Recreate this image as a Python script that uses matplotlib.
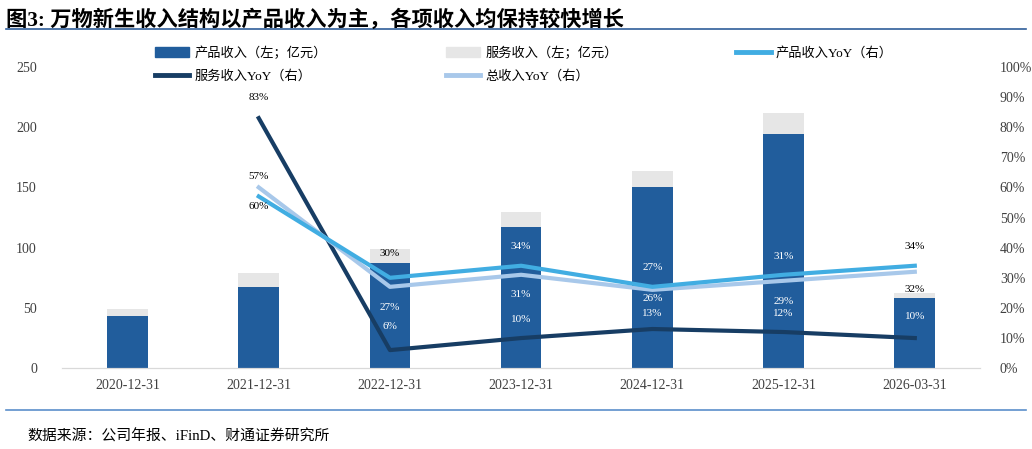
import matplotlib.pyplot as plt
import matplotlib.lines as mlines
import matplotlib.patches as mpatches
import numpy as np

plt.rcParams['font.family'] = ['Liberation Serif', 'Noto Sans CJK SC', 'DejaVu Sans']

# data
dates = ['2020-12-31', '2021-12-31', '2022-12-31', '2023-12-31',
         '2024-12-31', '2025-12-31', '2026-03-31']
product_rev = [43, 67, 87, 117, 150, 194, 58]
service_rev = [6, 12, 12, 13, 14, 18, 4]
product_yoy = [None, 57, 30, 34, 27, 31, 34]
service_yoy = [None, 83, 6, 10, 13, 12, 10]
total_yoy = [None, 60, 27, 31, 26, 29, 32]

# label placement (percent on right axis) and colour
labels = [
    # (index, text, y in %, colour)
    (1, '83%', 90, 'black'), (1, '57%', 63.5, 'black'), (1, '60%', 53.5, 'black'),
    (2, '30%', 38, 'black'), (2, '27%', 20, 'white'), (2, '6%', 14, 'white'),
    (3, '34%', 40.5, 'white'), (3, '31%', 24.5, 'white'), (3, '10%', 16, 'white'),
    (4, '27%', 33.5, 'white'), (4, '26%', 23, 'white'), (4, '13%', 18, 'white'),
    (5, '31%', 37, 'white'), (5, '29%', 22, 'white'), (5, '12%', 18, 'white'),
    (6, '34%', 40.5, 'black'), (6, '32%', 26, 'black'), (6, '10%', 17, 'white'),
]

c_prod = '#215D9C'
c_serv = '#E6E6E6'
c_prod_yoy = '#41ADE2'
c_serv_yoy = '#173D64'
c_tot_yoy = '#A8C8EA'

fig = plt.figure(figsize=(10.32, 4.49), dpi=100)
ax = fig.add_axes([0.060, 0.180, 0.890, 0.671])
ax2 = ax.twinx()

x = np.arange(len(dates))
ax.bar(x, product_rev, width=0.31, color=c_prod, zorder=2)
ax.bar(x, service_rev, width=0.31, bottom=product_rev, color=c_serv, zorder=2)

xl = x[1:]
ax2.plot(xl, service_yoy[1:], color=c_serv_yoy, lw=3, zorder=3)
ax2.plot(xl, total_yoy[1:], color=c_tot_yoy, lw=3, zorder=4)
ax2.plot(xl, product_yoy[1:], color=c_prod_yoy, lw=3, zorder=5)

for i, t, yv, col in labels:
    ax2.text(x[i], yv, t, ha='center', va='center', fontsize=8, color=col, zorder=6)

ax.set_ylim(0, 250)
ax.set_yticks(range(0, 251, 50))
ax2.set_ylim(0, 100)
ax2.set_yticks(range(0, 101, 10))
ax2.set_yticklabels([f'{v}%' for v in range(0, 101, 10)])
ax.set_xlim(-0.5, len(dates) - 0.5)
ax.set_xticks(x)
ax.set_xticklabels(dates)

for a in (ax, ax2):
    for s in ('top', 'left', 'right'):
        a.spines[s].set_visible(False)
    a.spines['bottom'].set_color('#D9D9D9')
    a.tick_params(length=0, labelsize=10, colors='#404040')
ax.tick_params(axis='x', pad=8)
ax.tick_params(axis='y', pad=18)
ax2.tick_params(axis='y', pad=14)

# legend (column-major order so rows read like the original)
h_prod = mpatches.Patch(color=c_prod, label='产品收入（左；亿元）')
h_serv = mpatches.Patch(color=c_serv, label='服务收入（左；亿元）')
h_pyoy = mlines.Line2D([], [], color=c_prod_yoy, lw=3.5, label='产品收入YoY（右）')
h_syoy = mlines.Line2D([], [], color=c_serv_yoy, lw=3.5, label='服务收入YoY（右）')
h_tyoy = mlines.Line2D([], [], color=c_tot_yoy, lw=3.5, label='总收入YoY（右）')
fig.legend(handles=[h_prod, h_syoy, h_serv, h_tyoy, h_pyoy], ncol=3, loc='upper left',
           bbox_to_anchor=(0.150, 0.897), borderaxespad=0, borderpad=0,
           frameon=False, fontsize=9.5, handlelength=2.6, handleheight=0.7,
           handletextpad=0.4, columnspacing=9.0, labelspacing=0.8)

# title and footer
fig.text(0.006, 0.955, '图3: 万物新生收入结构以产品收入为主，各项收入均保持较快增长',
         fontsize=15.3, fontweight='bold', va='center', color='black')
fig.add_artist(mlines.Line2D([0.006, 0.994], [0.935, 0.935], color='#2F5D9A', lw=1.2))
fig.add_artist(mlines.Line2D([0.006, 0.994], [0.087, 0.087], color='#5B8FCB', lw=1.2))
fig.text(0.027, 0.027, '数据来源：公司年报、iFinD、财通证券研究所', fontsize=10.7, va='center')

fig.savefig('out.png', dpi=100)
